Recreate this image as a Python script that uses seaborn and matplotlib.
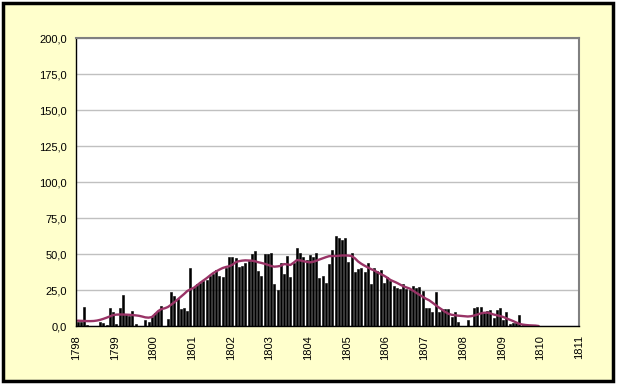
import matplotlib
matplotlib.use("Agg")
import matplotlib.pyplot as plt
import seaborn as sns
import pandas as pd
from matplotlib.patches import Rectangle


# ------------------- data -------------------
years = list(range(1798, 1812))

# one bar per month, Jan 1798 .. Dec 1810
monthly = [
    3, 3, 13, 1, 0, 0, 0, 3, 2, 1, 12.5, 10,                      # 1798
    1.5, 12.5, 21.5, 8, 7, 10.5, 1.5, 0, 0, 4.5, 2.5, 6,          # 1799
    9, 10.5, 14, 0, 5, 23.5, 21, 18.5, 11.5, 12.5, 10.5, 40,      # 1800
    27, 29, 30, 31, 32, 35, 36, 39, 34.5, 34, 40, 48,             # 1801
    48, 47, 41, 42, 44, 45, 50, 52, 38, 35, 50, 50,               # 1802
    50.5, 29, 25, 44, 36, 48.5, 34, 43.5, 54, 50.5, 48, 45.5,     # 1803
    49, 48, 51, 33.5, 35, 30, 43, 53, 62.5, 61, 60, 61,           # 1804
    44.5, 50.5, 37.5, 39.5, 40.5, 37.5, 44, 29, 40.5, 38, 39, 30, # 1805
    34, 31, 28, 26.5, 26, 29.5, 26, 25, 28, 26.5, 27, 24.3,       # 1806
    12.5, 12.5, 10, 23.6, 10, 11.8, 11.8, 11.5, 6.5, 10, 2.8, 0,  # 1807
    0, 4, 0, 12.7, 13.2, 13.4, 9, 10.4, 11, 5.8, 11, 12.7,        # 1808
    4.2, 9.5, 1.2, 2, 2, 7.6, 0.5, 0.3, 0, 0, 0, 0,               # 1809
    0, 0, 0, 0, 0, 0, 0, 0, 0, 0, 0, 0,                           # 1810
]

# smoothed trend line, read per month up to Jan 1810
trend = [
    3.7, 3.6, 3.5, 3.4, 3.4, 3.5, 3.8, 4.3, 5.0, 5.8, 6.7, 7.6,
    7.9, 8.0, 8.0, 7.9, 7.8, 7.6, 7.4, 7.1, 6.6, 6.0, 5.8, 6.2,
    8.2, 10.4, 11.8, 12.3, 13.2, 14.8, 16.5, 18.4, 20.2, 22.2, 24.3, 25.5,
    26.5, 28.2, 30.0, 31.6, 33.2, 35.0, 36.7, 38.0, 39.2, 40.3, 41.0, 41.5,
    42.5, 44.3, 45.0, 45.4, 45.6, 45.5, 45.4, 45.0, 44.3, 43.8, 43.2, 42.5,
    41.7, 41.2, 41.4, 41.8, 43.0, 42.8, 42.4, 44.0, 45.8, 45.6, 45.0, 44.6,
    44.2, 44.6, 45.3, 46.2, 47.0, 47.8, 48.5, 48.6, 48.6, 48.8, 49.0, 49.0,
    48.9, 48.6, 47.0, 44.8, 43.2, 41.9, 40.7, 39.5, 38.6, 37.3, 36.1, 35.0,
    33.6, 32.0, 31.0, 30.0, 28.8, 27.6, 26.8, 26.0, 24.6, 23.1, 21.7, 20.4,
    19.0, 17.9, 16.3, 14.6, 12.9, 11.4, 9.8, 8.5, 7.8, 7.5, 7.2, 7.0,
    6.8, 6.6, 6.8, 7.3, 8.0, 8.7, 9.2, 9.3, 8.8, 8.0, 7.5, 6.9,
    6.3, 5.3, 4.4, 3.5, 2.5, 1.5, 1.0, 0.7, 0.5, 0.4, 0.3, 0.0,
]

bars_df = pd.DataFrame({"month": range(len(monthly)), "value": monthly})
trend_df = pd.DataFrame({"month": range(len(trend)), "value": trend})

sns.set_style("white")
plt.rcParams["font.family"] = ["Liberation Sans", "DejaVu Sans"]

fig = plt.figure(figsize=(6.17, 3.84), dpi=100)
fig.patch.set_facecolor("white")
# pale yellow chart area with black frame
fig.patches.append(Rectangle((0.005, 0.008), 0.989, 0.984, transform=fig.transFigure,
                             facecolor="#FFFFCC", edgecolor="black", linewidth=2.5, zorder=-1))

ax = fig.add_axes([0.1232, 0.151, 0.8152, 0.75])
ax.set_facecolor("white")

sns.barplot(data=bars_df, x="month", y="value", color="black", width=0.62,
            saturation=1, errorbar=None, edgecolor="black", linewidth=0.4, ax=ax)
sns.lineplot(data=trend_df, x="month", y="value", color="#993366", linewidth=1.7, ax=ax)

ax.set_xlim(-0.5, len(monthly) - 0.5)
ax.set_ylim(0, 200)

# year ticks sit on the category boundaries
ax.set_xticks([-0.5 + 12 * k for k in range(len(years))])
ax.set_xticklabels([str(y) for y in years], rotation=90)
ax.set_yticks(range(0, 201, 25))
ax.set_yticklabels([f"{v:.1f}".replace(".", ",") for v in range(0, 201, 25)])

ax.yaxis.grid(True, color="#C0C0C0", linewidth=1)
ax.set_axisbelow(True)
ax.tick_params(direction="inout", length=5, width=1, labelsize=8, pad=4, colors="black")
ax.set_xlabel("")
ax.set_ylabel("")

for side in ["left", "bottom"]:
    ax.spines[side].set_color("black")
    ax.spines[side].set_linewidth(1)
for side in ["top", "right"]:
    ax.spines[side].set_color("#808080")
    ax.spines[side].set_linewidth(1.5)

fig.savefig("out.png", dpi=100)
